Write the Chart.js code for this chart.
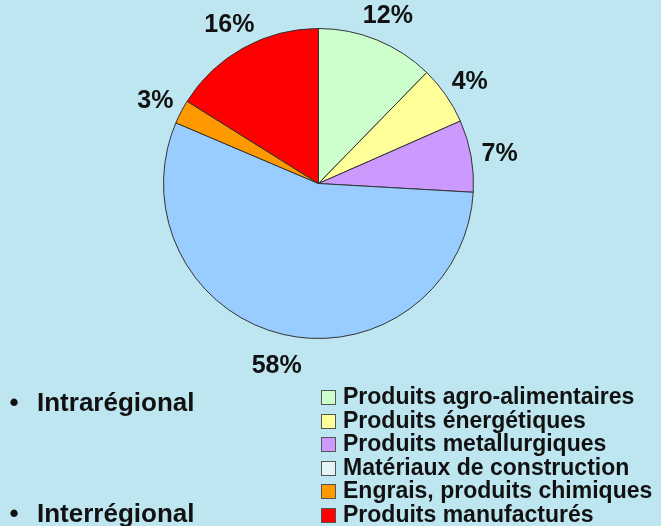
<!DOCTYPE html>
<html>
<head>
<meta charset="utf-8">
<script src="https://cdn.jsdelivr.net/npm/chart.js@4.4.1/dist/chart.umd.min.js"></script>
<style>
  html, body { margin: 0; padding: 0; background: #bee6f0; }
  #wrap { position: relative; width: 661px; height: 526px; overflow: hidden;
          font-family: "Liberation Sans", Arial, sans-serif; font-weight: bold; color: #111; }
  #pie { position: absolute; left: 0; top: 0; }
  #legend { position: absolute; left: 321px; top: 385px; margin: 0; padding: 0; list-style: none; }
  #legend li { height: 23.6px; line-height: 23.6px; font-size: 23px; white-space: nowrap; }
  #legend span { display: inline-block; width: 13px; height: 13px; border: 1px solid #555;
                 margin-right: 7px; vertical-align: -1px; }
  #bullets { position: absolute; left: 0; top: 386px; margin: 0; padding: 0; list-style: none; }
  #bullets li { height: 111px; font-size: 26px; line-height: 32px; white-space: nowrap; }
  #bullets li:before { content: "\2022"; display: inline-block; width: 28px; margin-right: 9px;
                       text-align: center; }
</style>
</head>
<body>
<div id="wrap">
  <canvas id="pie" width="661" height="526"></canvas>
  <ul id="bullets"></ul>
  <ul id="legend"></ul>
</div>
<script>
// categories, clockwise from 12 o'clock
var categories = [
  "Produits agro-alimentaires",
  "Produits énergétiques",
  "Produits metallurgiques",
  "Matériaux de construction",
  "Engrais, produits chimiques",
  "Produits manufacturés"
];
// slice sizes as drawn in the picture (%)
var sliceShares = [12.3, 6.1, 7.5, 55.5, 2.5, 16.1];
// percentages printed beside the slices
var printedShares = [12, 4, 7, 58, 3, 16];
var sliceColors = ["#ccffcc", "#ffff99", "#cc99ff", "#99ccff", "#ff9900", "#ff0000"];
var legendColors = ["#ccffcc", "#ffff99", "#cc99ff", "#e4f4f8", "#ff9900", "#ff0000"];
var flows = ["Intrarégional", "Interrégional"];

// html legend + bullet list
var legendBox = document.getElementById("legend");
categories.forEach(function(cat, i) {
  var li = document.createElement("li");
  li.innerHTML = '<span style="background:' + legendColors[i] + '"></span>' + cat;
  legendBox.appendChild(li);
});
var bulletBox = document.getElementById("bullets");
flows.forEach(function(f) {
  var li = document.createElement("li");
  li.textContent = f;
  bulletBox.appendChild(li);
});

// percent labels outside each slice
var outsideLabels = {
  id: "outsideLabels",
  afterDatasetsDraw: function(chart) {
    var ctx = chart.ctx;
    var meta = chart.getDatasetMeta(0);
    ctx.save();
    ctx.font = 'bold 25px "Liberation Sans", Arial, sans-serif';
    ctx.fillStyle = "#111";
    ctx.textAlign = "center";
    ctx.textBaseline = "middle";
    meta.data.forEach(function(arc, i) {
      var p = arc.getProps(["x", "y", "startAngle", "endAngle", "outerRadius"], true);
      var mid = (p.startAngle + p.endAngle) / 2;
      var r = p.outerRadius + 29;
      ctx.fillText(printedShares[i] + "%", p.x + Math.cos(mid) * r, p.y + Math.sin(mid) * r + 3);
    });
    ctx.restore();
  }
};

var pieCtx = document.getElementById("pie").getContext("2d");
var pieChart = new Chart(pieCtx, {
  type: "pie",
  data: {
    labels: categories,
    datasets: [{
      data: sliceShares,
      backgroundColor: sliceColors,
      borderColor: "#333",
      borderWidth: 1
    }]
  },
  options: {
    responsive: false,
    animation: false,
    layout: { padding: { top: 28, bottom: 187, left: 0, right: 24 } },
    plugins: {
      legend: { display: false },
      tooltip: { enabled: false }
    }
  },
  plugins: [outsideLabels]
});
</script>
</body>
</html>
